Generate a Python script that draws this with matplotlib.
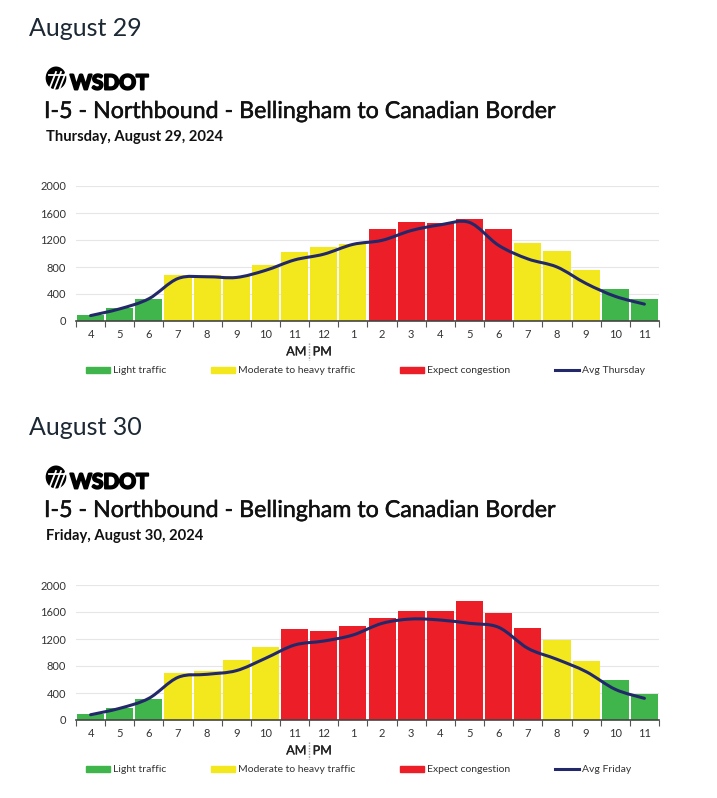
import matplotlib
matplotlib.use("Agg")
import matplotlib.pyplot as plt
import matplotlib.patheffects as pe
from matplotlib.path import Path
from matplotlib.patches import PathPatch, Patch, Circle
from matplotlib.lines import Line2D

# datos
horas = ["4", "5", "6", "7", "8", "9", "10", "11", "12", "1",
         "2", "3", "4", "5", "6", "7", "8", "9", "10", "11"]

jueves_barras = [95, 190, 330, 680, 680, 660, 825, 1020, 1090, 1145,
                 1360, 1465, 1450, 1505, 1360, 1150, 1040, 755, 475, 330]
jueves_nivel = ["L", "L", "L", "M", "M", "M", "M", "M", "M", "M",
                "C", "C", "C", "C", "C", "M", "M", "M", "L", "L"]
jueves_prom = [80, 180, 330, 630, 655, 645, 750, 905, 990, 1135,
               1195, 1340, 1425, 1460, 1120, 920, 800, 555, 365, 250]

viernes_barras = [90, 178, 316, 696, 731, 894, 1081, 1343, 1319, 1388,
                  1511, 1620, 1620, 1758, 1585, 1358, 1190, 874, 598, 385]
viernes_nivel = ["L", "L", "L", "M", "M", "M", "M", "C", "C", "C",
                 "C", "C", "C", "C", "C", "C", "M", "M", "L", "L"]
viernes_prom = [78, 173, 321, 632, 677, 731, 914, 1111, 1170, 1259,
                1432, 1496, 1481, 1432, 1373, 1062, 899, 716, 454, 321]

colores = {"L": "#3fb54b", "M": "#f2e81d", "C": "#ec1e27"}
azul = "#23286b"
W, H = 717, 798

plt.rcParams['font.family'] = ['Lato', 'DejaVu Sans']

fig = plt.figure(figsize=(W / 100, H / 100), dpi=100)


def curva(xs, ys):
    # spline tipo Catmull-Rom dibujada con curvas Bezier
    pts = list(zip(xs, ys))
    n = len(pts)
    verts = [pts[0]]
    codes = [Path.MOVETO]
    for i in range(n - 1):
        p0 = pts[max(i - 1, 0)]
        p1 = pts[i]
        p2 = pts[i + 1]
        p3 = pts[min(i + 2, n - 1)]
        c1 = (p1[0] + (p2[0] - p0[0]) / 6, p1[1] + (p2[1] - p0[1]) / 6)
        c2 = (p2[0] - (p3[0] - p1[0]) / 6, p2[1] - (p3[1] - p1[1]) / 6)
        verts += [c1, c2, p2]
        codes += [Path.CURVE4] * 3
    return Path(verts, codes)


def panel(dy, encabezado, fecha, barras, nivel, prom, etiqueta):
    fy = lambda y: 1 - (y + dy) / H
    fig.text(29 / W, fy(36), encabezado, fontsize=18, color="#1c2833", va="baseline")
    # logo
    fig.patches.append(Circle((56 / W, fy(78)), 11.5 / H, transform=fig.transFigure,
                              facecolor="black", edgecolor="none"))
    for k in (-4, 1, 6):
        fig.lines.append(Line2D([(53 + k) / W, (60 + k) / W], [fy(90), fy(72)],
                                transform=fig.transFigure, color="white", lw=1.3))
    fig.lines.append(Line2D([49 / W, 65 / W], [fy(75), fy(75)],
                            transform=fig.transFigure, color="white", lw=1.3))
    fig.text(70 / W, fy(89.5), "WSDOT", fontsize=15, fontweight="bold", color="black",
             va="baseline", path_effects=[pe.withStroke(linewidth=1.4, foreground="black")])
    fig.text(44 / W, fy(118), "I-5 - Northbound - Bellingham to Canadian Border",
             fontsize=16.7, color="#111111", va="baseline",
             path_effects=[pe.withStroke(linewidth=0.35, foreground="#111111")])
    fig.text(46 / W, fy(141), fecha, fontsize=10.6, fontweight="bold", color="#111111",
             va="baseline")

    ax = fig.add_axes([76 / W, fy(321), 583 / W, 135 / H])
    x = range(len(horas))
    ax.bar(x, barras, width=0.93, color=[colores[c] for c in nivel], zorder=2)
    ax.add_patch(PathPatch(curva(list(x), prom), fill=False, edgecolor=azul,
                           lw=2.2, zorder=3, capstyle="round"))
    ax.set_xlim(-0.5, len(horas) - 0.5)
    ax.set_ylim(0, 2000)
    ax.set_yticks(range(0, 2001, 400))
    ax.yaxis.grid(True, color="#e6e6e6", lw=0.8, zorder=0)
    ax.tick_params(axis="y", length=0, labelsize=8, colors="#333333", pad=7)
    ax.set_xticks(list(x))
    ax.set_xticklabels(horas)
    ax.tick_params(axis="x", length=0, labelsize=8, colors="#333333", pad=6)
    ax.set_xticks([i - 0.5 for i in range(len(horas) + 1)], minor=True)
    ax.tick_params(axis="x", which="minor", length=4, color="#555555", width=0.8)
    for s in ("top", "right", "left"):
        ax.spines[s].set_visible(False)
    ax.spines["bottom"].set_color("#444444")
    ax.spines["bottom"].set_linewidth(1.2)
    ax.set_axisbelow(True)

    # AM | PM
    tr = ax.get_xaxis_transform()
    ax.text(7.4, -0.225, "AM", transform=tr, ha="right", va="center", fontsize=9,
            color="#222222", path_effects=[pe.withStroke(linewidth=0.25, foreground="#222222")])
    ax.text(7.62, -0.225, "PM", transform=tr, ha="left", va="center", fontsize=9,
            color="#222222", path_effects=[pe.withStroke(linewidth=0.25, foreground="#222222")])
    ax.plot([7.5, 7.5], [-0.16, -0.29], transform=tr, color="#999999", lw=1,
            ls=(0, (1, 1)), clip_on=False)

    handles = [Patch(color=colores["L"], label="Light traffic"),
               Patch(color=colores["M"], label="Moderate to heavy traffic"),
               Patch(color=colores["C"], label="Expect congestion"),
               Line2D([], [], color=azul, lw=2.2, label=etiqueta)]
    ax.legend(handles=handles, loc="center left", bbox_to_anchor=(10 / 583, -50 / 135),
              ncol=4, frameon=False, fontsize=7.5, handlelength=2.3, handleheight=0.5,
              handletextpad=0.3, columnspacing=4.3, borderpad=0, borderaxespad=0,
              labelcolor="#333333")


panel(0, "August 29", "Thursday, August 29, 2024", jueves_barras, jueves_nivel,
      jueves_prom, "Avg Thursday")
panel(399, "August 30", "Friday, August 30, 2024", viernes_barras, viernes_nivel,
      viernes_prom, "Avg Friday")

fig.savefig("out.png", dpi=100)
